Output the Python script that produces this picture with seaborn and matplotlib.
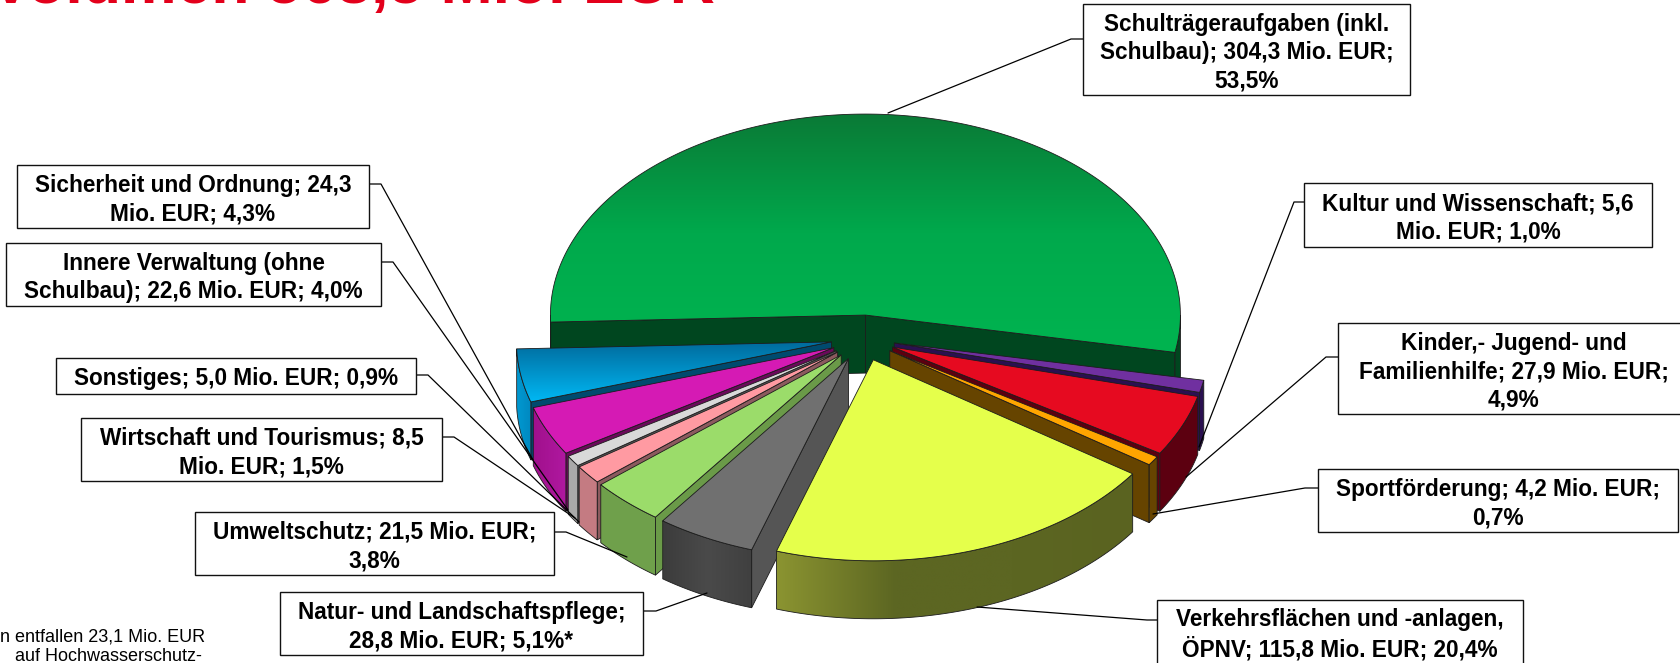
import numpy as np
import matplotlib
matplotlib.use('Agg')
import matplotlib.pyplot as plt
from matplotlib.patches import Polygon, Rectangle
import seaborn as sns

# Werte in Mio. EUR, im Uhrzeigersinn
bereiche = ['Schultraeger', 'Kultur', 'Kinder', 'Sport', 'Verkehr', 'Natur',
            'Umwelt', 'Wirtschaft', 'Sonstiges', 'Innere', 'Sicherheit']
werte = [304.3, 5.6, 27.9, 4.2, 115.8, 28.8, 21.5, 8.5, 5.0, 22.6, 24.3]
beschriftung = [
    'Schulträgeraufgaben (inkl.\nSchulbau); 304,3 Mio. EUR;\n53,5%',
    'Kultur und Wissenschaft; 5,6\nMio. EUR; 1,0%',
    'Kinder,- Jugend- und\nFamilienhilfe; 27,9 Mio. EUR;\n4,9%',
    'Sportförderung; 4,2 Mio. EUR;\n0,7%',
    'Verkehrsflächen und -anlagen,\nÖPNV; 115,8 Mio. EUR; 20,4%',
    'Natur- und Landschaftspflege;\n28,8 Mio. EUR; 5,1%*',
    'Umweltschutz; 21,5 Mio. EUR;\n3,8%',
    'Wirtschaft und Tourismus; 8,5\nMio. EUR; 1,5%',
    'Sonstiges; 5,0 Mio. EUR; 0,9%',
    'Innere Verwaltung (ohne\nSchulbau); 22,6 Mio. EUR; 4,0%',
    'Sicherheit und Ordnung; 24,3\nMio. EUR; 4,3%',
]

# Farben: Oberseite (Verlauf oben nach unten), Aussenwand (links nach rechts), Schnittflaeche
oben = [['#0a7a36', '#00a94c', '#00b450'], ['#7030a0'], ['#e60a20'], ['#ffa500'], ['#e5ff4b'],
        ['#707070'], ['#9bdc6a'], ['#ff9aa2'], ['#d9d9d9'], ['#d51ab4'], ['#006a9c', '#00b8f4']]
wand = [['#00461f'], ['#2a1050'], ['#5c0010'], ['#664400'],
        ['#8b9431', '#5c6622', '#5c6622', '#5a6320'],
        ['#3c3c3c', '#4a4a4a', '#404040'], ['#6fa04b'], ['#c47b82'], ['#a9a9a9'],
        ['#a0108c', '#b018a0'], ['#0098d0', '#0088c0']]
seite = ['#00461f', '#2a1050', '#5c0010', '#664400', '#5c6622', '#555555', '#6a9a48',
         '#8c5a5e', '#555555', '#6a0a5a', '#004a6e']

# Beschriftungskaesten: links, oben, rechts, unten (Pixel)
kaesten = [(1083, 4, 1410, 95), (1304, 183, 1652, 247), (1338, 323, 1690, 414),
           (1318, 469, 1678, 532), (1157, 600, 1523, 664), (280, 592, 643, 655),
           (195, 512, 554, 575), (81, 418, 442, 481), (56, 358, 416, 394),
           (6, 243, 381, 306), (17, 165, 369, 228)]
# Fuehrungslinien: Knick und Ende
linien = [[(1083, 39), (1071, 39), (888, 113)], [(1304, 202), (1294, 202), (1199, 447)],
          [(1338, 357), (1326, 357), (1186, 477)], [(1318, 488), (1305, 488), (1153, 514)],
          [(1157, 620), (1147, 620), (977, 607)], [(643, 611), (656, 611), (707, 593)],
          [(554, 532), (566, 532), (627, 557)], [(442, 437), (454, 437), (575, 518)],
          [(416, 375), (428, 375), (579, 522)], [(381, 262), (393, 262), (568, 510)],
          [(369, 184), (381, 184), (533, 460)]]

mitte_x, mitte_y = 863, 338
radius_x, radius_y = 315, 201
versatz_x, versatz_y = 32, 23
tiefe = 58
startwinkel = 182

sns.set_theme(style='white')
plt.rcParams['font.family'] = ['Liberation Sans', 'DejaVu Sans']

fig = plt.figure(figsize=(16.81, 6.63), dpi=100)
ax = fig.add_axes([0, 0, 1, 1])


def punkt(winkel, x0, y0):
    w = np.radians(winkel)
    return x0 + radius_x * np.cos(w), y0 - radius_y * np.sin(w)


def flaeche(xs, ys, farben, senkrecht, z):
    # einfarbig oder Verlauf, der auf das Polygon beschnitten wird
    xs, ys = np.asarray(xs), np.asarray(ys)
    if len(farben) > 1:
        cmap = sns.blend_palette(farben, n_colors=64, as_cmap=True)
        verlauf = np.linspace(0, 1, 128)
        verlauf = verlauf[:, None] if senkrecht else verlauf[None, :]
        bild = ax.imshow(verlauf, cmap=cmap, aspect='auto', zorder=z, interpolation='bilinear',
                         extent=(xs.min(), xs.max(), ys.max(), ys.min()))
        clip = Polygon(np.c_[xs, ys], closed=True, transform=ax.transData)
        bild.set_clip_path(clip)
        ax.fill(xs, ys, facecolor='none', edgecolor='#1c1c1c', lw=0.6, zorder=z)
    else:
        ax.fill(xs, ys, facecolor=farben[0], edgecolor='#1c1c1c', lw=0.6, zorder=z)


summe = sum(werte)
grenzen = startwinkel - np.cumsum([0] + werte) / summe * 360
mitten = (grenzen[:-1] + grenzen[1:]) / 2
reihenfolge = np.argsort(-np.sin(np.radians(mitten)))

for rang, i in enumerate(reihenfolge):
    a0, a1 = grenzen[i], grenzen[i + 1]
    m = np.radians(mitten[i])
    x0 = mitte_x + versatz_x * np.cos(m)
    y0 = mitte_y - versatz_y * np.sin(m)
    z = 2 + rang * 0.1
    # Schnittflaechen, nur die nach vorn zeigenden
    for winkel, sichtbar in ((a0, np.cos(np.radians(a0)) < 0), (a1, np.cos(np.radians(a1)) > 0)):
        if sichtbar:
            px, py = punkt(winkel, x0, y0)
            flaeche([x0, px, px, x0], [y0, py, py + tiefe, y0 + tiefe], [seite[i]], True, z)
    # Aussenwand, nur der vordere Teil des Bogens
    winkel = np.linspace(a0, a1, 200)
    vorn = np.sin(np.radians(winkel)) <= 0
    teile = np.split(winkel, np.flatnonzero(np.diff(vorn.astype(int))) + 1)
    for teil in teile:
        if len(teil) > 1 and np.sin(np.radians(teil[len(teil) // 2])) <= 0:
            px, py = punkt(teil, x0, y0)
            flaeche(np.r_[px, px[::-1]], np.r_[py, py[::-1] + tiefe], wand[i], False, z + 0.01)
    # Oberseite
    px, py = punkt(winkel, x0, y0)
    flaeche(np.r_[x0, px], np.r_[y0, py], oben[i], True, z + 0.02)

for kasten, text, linie in zip(kaesten, beschriftung, linien):
    l, o, r, u = kasten
    ax.plot(*zip(*linie), color='black', lw=0.9, zorder=4)
    ax.add_patch(Rectangle((l, o), r - l, u - o, facecolor='white', edgecolor='#111111',
                           lw=1.0, zorder=5))
    ax.text((l + r) / 2, (o + u) / 2 + 3, text, ha='center', va='center',
            fontsize=16.3, fontweight='bold', color='black', linespacing=1.3, zorder=6)

ax.text(715, 3, 'Volumen 568,5 Mio. EUR', ha='right', va='baseline', fontsize=45,
        fontweight='bold', color='#e3001b')
ax.text(205, 641, 'Davon entfallen 23,1 Mio. EUR', ha='right', va='baseline', fontsize=13,
        color='black')
ax.text(15, 661, 'auf Hochwasserschutz-', ha='left', va='baseline', fontsize=13, color='black')

ax.set_xlim(0, 1681)
ax.set_ylim(663, 0)
ax.axis('off')
fig.savefig('out.png', dpi=100, facecolor='white')
